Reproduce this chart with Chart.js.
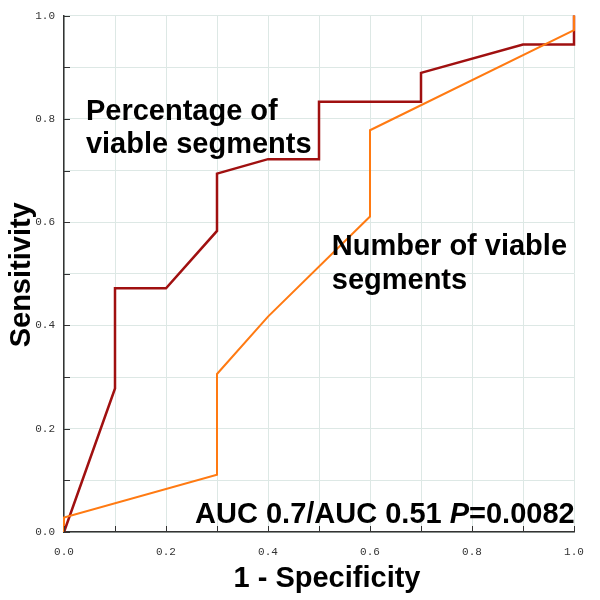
<!DOCTYPE html>
<html>
<head>
<meta charset="utf-8">
<script src="https://cdn.jsdelivr.net/npm/chart.js@4/dist/chart.umd.min.js"></script>
<style>
html,body{margin:0;padding:0;background:#fff;}
#c{display:block;}
</style>
</head>
<body>
<canvas id="c" width="600" height="600"></canvas>
<script>
// ROC curve data (1 - specificity, sensitivity)
const fprPercentage = [0, 0.1, 0.1, 0.2, 0.3, 0.3, 0.4, 0.5, 0.5, 0.7, 0.7, 0.9, 1.0, 1.0];
const tprPercentage = [0, 0.278, 0.472, 0.472, 0.583, 0.694, 0.722, 0.722, 0.833, 0.833, 0.889, 0.944, 0.944, 1.0];
const fprNumber = [0, 0, 0.3, 0.3, 0.4, 0.6, 0.6, 1.0, 1.0];
const tprNumber = [0, 0.028, 0.111, 0.306, 0.417, 0.611, 0.778, 0.972, 1.0];
const seriesNames = ["Number of viable segments", "Percentage of viable segments"];
const xTitle = "1 - Specificity";
const yTitle = "Sensitivity";
const aucText = ["AUC 0.7/AUC 0.51 ", "P", "=0.0082"];

function pts(xs, ys){ return xs.map((x,i)=>({x:x, y:ys[i]})); }

const FONT = "'Liberation Sans', Arial, sans-serif";
const tickFont = {family: "'Liberation Mono', 'Courier New', monospace", size: 11};

const annotPlugin = {
  id: 'annot',
  afterDraw(chart){
    const ctx = chart.ctx;
    const xs = chart.scales.x, ys = chart.scales.y, a = chart.chartArea;
    ctx.save();
    // inner tick marks
    ctx.strokeStyle = '#333';
    ctx.lineWidth = 1;
    for (let i = 0; i <= 10; i++) {
      const v = i / 10;
      const px = Math.round(xs.getPixelForValue(v)) + 0.5;
      ctx.beginPath(); ctx.moveTo(px, a.bottom); ctx.lineTo(px, a.bottom - 6); ctx.stroke();
      const py = Math.round(ys.getPixelForValue(v)) + 0.5;
      ctx.beginPath(); ctx.moveTo(a.left, py); ctx.lineTo(a.left + 6, py); ctx.stroke();
    }
    ctx.fillStyle = '#000';
    ctx.font = 'bold 29px ' + FONT;
    ctx.textBaseline = 'alphabetic';
    ctx.textAlign = 'left';
    const t = (s, x, y) => ctx.fillText(s, xs.getPixelForValue(x), ys.getPixelForValue(y));
    t("Percentage of", 0.043, 0.798);
    t("viable segments", 0.043, 0.733);
    t("Number of viable", 0.525, 0.537);
    t("segments", 0.525, 0.471);
    // AUC line with italic P
    let x0 = xs.getPixelForValue(0.257), y0 = ys.getPixelForValue(0.017);
    ctx.font = 'bold 29px ' + FONT;
    ctx.fillText(aucText[0], x0, y0); x0 += ctx.measureText(aucText[0]).width;
    ctx.font = 'italic bold 29px ' + FONT;
    ctx.fillText(aucText[1], x0, y0); x0 += ctx.measureText(aucText[1]).width;
    ctx.font = 'bold 29px ' + FONT;
    ctx.fillText(aucText[2], x0, y0);
    // axis titles
    ctx.textAlign = 'center';
    ctx.fillText(xTitle, (a.left + a.right) / 2 + 8, a.bottom + 55);
    ctx.translate(30, (a.top + a.bottom) / 2 + 1);
    ctx.rotate(-Math.PI / 2);
    ctx.fillText(yTitle, 0, 0);
    ctx.restore();
  }
};

const tickCb = function(v){
  const k = Math.round(v * 10);
  return (k % 2 === 0) ? (k / 10).toFixed(1) : '';
};

new Chart(document.getElementById('c'), {
  type: 'scatter',
  data: {
    datasets: [
      { label: seriesNames[0], data: pts(fprNumber, tprNumber), showLine: true,
        borderColor: '#ff7a12', backgroundColor: '#ff7a12', borderWidth: 2, pointRadius: 0, tension: 0, clip: false },
      { label: seriesNames[1], data: pts(fprPercentage, tprPercentage), showLine: true,
        borderColor: '#a01010', backgroundColor: '#a01010', borderWidth: 2.5, pointRadius: 0, tension: 0, clip: false }
    ]
  },
  options: {
    responsive: false,
    animation: false,
    layout: { padding: { top: 12, right: 26, left: 0, bottom: 0 } },
    plugins: { legend: { display: false }, tooltip: { enabled: false } },
    scales: {
      x: {
        type: 'linear', min: 0, max: 1,
        afterFit(s){ s.height = 68; },
        grid: { color: '#dde8e5', lineWidth: 1, drawTicks: false },
        border: { color: '#333', width: 1.5 },
        ticks: { stepSize: 0.1, autoSkip: false, maxRotation: 0, color: '#333', font: tickFont, padding: 13, callback: tickCb }
      },
      y: {
        type: 'linear', min: 0, max: 1,
        afterFit(s){ s.width = 64; },
        grid: { color: '#dde8e5', lineWidth: 1, drawTicks: false },
        border: { color: '#333', width: 1.5 },
        ticks: { stepSize: 0.1, autoSkip: false, color: '#333', font: tickFont, padding: 9, callback: tickCb }
      }
    }
  },
  plugins: [annotPlugin]
});
</script>
</body>
</html>
